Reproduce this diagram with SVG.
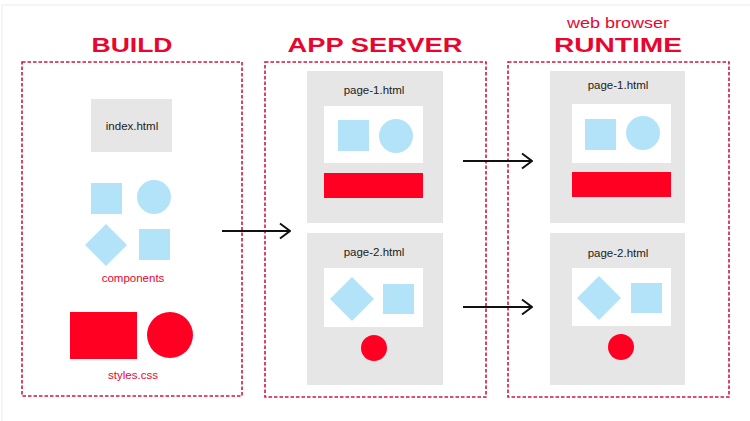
<svg xmlns="http://www.w3.org/2000/svg" width="750" height="421" viewBox="0 0 750 421">
<defs>
<style>
.title{font-family:"Liberation Sans",Arial,sans-serif;font-weight:bold;font-size:21px;fill:#e8062f;text-anchor:middle}
.sub{font-family:"Liberation Sans",Arial,sans-serif;font-size:14px;fill:#e8062f;text-anchor:middle}
.lbl{font-family:"Liberation Sans",Arial,sans-serif;font-size:11.5px;fill:#222;text-anchor:middle}
.rlbl{font-family:"Liberation Sans",Arial,sans-serif;font-size:11.5px;fill:#e8062f;text-anchor:middle}
.frame{fill:none;stroke:#d4163f;stroke-width:1.6;stroke-dasharray:3.5 2}
.gray{fill:#e6e6e6}
.white{fill:#fff}
.blue{fill:#b3e3f8}
.red{fill:#ff0022}
.conn{fill:none;stroke:#111;stroke-width:2}
</style>
<marker id="arr" viewBox="0 0 12 18" refX="11" refY="9" markerWidth="12" markerHeight="18" markerUnits="userSpaceOnUse" orient="auto">
<path d="M1,1.5 L11,9 L1,16.5" fill="none" stroke="#111" stroke-width="2"/>
</marker>
</defs>
<rect x="0" y="0" width="750" height="421" fill="#fff"/>
<path d="M2,421 V5 H750" fill="none" stroke="#ececec" stroke-width="1"/>

<g id="build">
<text class="title" x="132" y="52" textLength="81" lengthAdjust="spacingAndGlyphs">BUILD</text>
<rect class="frame" x="22" y="62" width="220" height="334"/>
<g id="index-html">
<rect class="gray" x="91" y="99" width="81" height="53"/>
<text class="lbl" x="132" y="130">index.html</text>
</g>
<g id="components">
<rect class="blue" x="91" y="183" width="31" height="31"/>
<circle class="blue" cx="154" cy="197" r="17"/>
<polygon class="blue" points="106,224 127,245 106,266 85,245"/>
<rect class="blue" x="139" y="229" width="31" height="31"/>
<text class="rlbl" x="133" y="282">components</text>
</g>
<g id="styles-css">
<rect class="red" x="70" y="312" width="67" height="47"/>
<circle class="red" cx="170" cy="335" r="23"/>
<text class="rlbl" x="133" y="379">styles.css</text>
</g>
</g>

<g id="app-server">
<text class="title" x="375" y="52" textLength="175" lengthAdjust="spacingAndGlyphs">APP SERVER</text>
<rect class="frame" x="265" y="62" width="221" height="335"/>
<g id="server-page-1">
<rect class="gray" x="307" y="71" width="136" height="152"/>
<text class="lbl" x="374" y="94">page-1.html</text>
<rect class="white" x="324" y="106" width="99" height="57"/>
<rect class="blue" x="338" y="120" width="31" height="31"/>
<circle class="blue" cx="396" cy="136" r="17"/>
<rect class="red" x="324" y="173" width="99" height="25"/>
</g>
<g id="server-page-2">
<rect class="gray" x="307" y="233" width="136" height="152"/>
<text class="lbl" x="374" y="256">page-2.html</text>
<rect class="white" x="324" y="268" width="99" height="59"/>
<polygon class="blue" points="352,277 374,299 352,321 330,299"/>
<rect class="blue" x="383" y="284" width="31" height="30"/>
<circle class="red" cx="374" cy="348" r="13"/>
</g>
</g>

<g id="runtime">
<text class="sub" x="618" y="28" textLength="102" lengthAdjust="spacingAndGlyphs">web browser</text>
<text class="title" x="618" y="52" textLength="128" lengthAdjust="spacingAndGlyphs">RUNTIME</text>
<rect class="frame" x="508" y="62" width="221" height="335"/>
<g id="runtime-page-1">
<rect class="gray" x="550" y="71" width="135" height="152"/>
<text class="lbl" x="618" y="89">page-1.html</text>
<rect class="white" x="572" y="104" width="99" height="59"/>
<rect class="blue" x="585" y="119" width="31" height="31"/>
<circle class="blue" cx="643" cy="133" r="17"/>
<rect class="red" x="572" y="172" width="99" height="25"/>
</g>
<g id="runtime-page-2">
<rect class="gray" x="550" y="233" width="135" height="152"/>
<text class="lbl" x="618" y="257">page-2.html</text>
<rect class="white" x="572" y="268" width="99" height="58"/>
<polygon class="blue" points="599,276 621,298 599,320 577,298"/>
<rect class="blue" x="631" y="283" width="31" height="30"/>
<circle class="red" cx="621" cy="347" r="13"/>
</g>
</g>

<g id="connectors">
<line class="conn" x1="222" y1="231" x2="290" y2="231" marker-end="url(#arr)"/>
<line class="conn" x1="463" y1="161" x2="532" y2="161" marker-end="url(#arr)"/>
<line class="conn" x1="463" y1="307" x2="532" y2="307" marker-end="url(#arr)"/>
</g>
</svg>
